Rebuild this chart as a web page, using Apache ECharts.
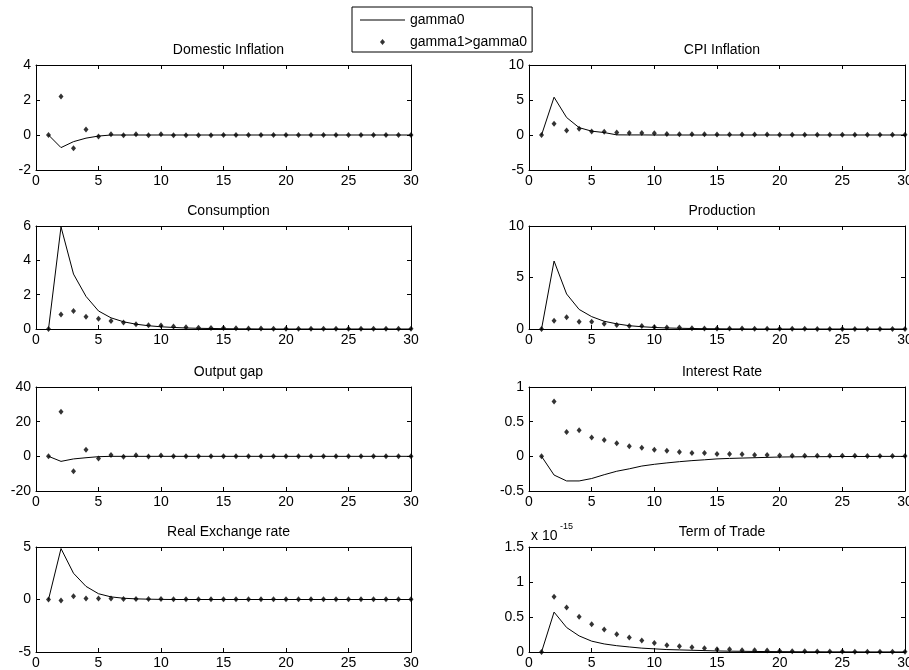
<!DOCTYPE html>
<html>
<head>
<meta charset="utf-8">
<script src="https://cdn.jsdelivr.net/npm/echarts@6/dist/echarts.min.js"></script>
<style>
html,body{margin:0;padding:0;background:#fff;overflow:hidden;}
#chart{width:909px;height:670px;}
</style>
</head>
<body>
<div id="chart"></div>
<script>
// Periods
const periods = [1,2,3,4,5,6,7,8,9,10,11,12,13,14,15,16,17,18,19,20,21,22,23,24,25,26,27,28,29,30];

// Domestic Inflation
const domGamma0 = [0,-0.72,-0.38,-0.18,-0.06,0,0,0,0,0,0,0,0,0,0,0,0,0,0,0,0,0,0,0,0,0,0,0,0,0];
const domGamma1 = [0,2.2,-0.75,0.32,-0.08,0.05,-0.02,0.05,-0.02,0.04,-0.01,-0.01,-0.01,-0.01,0,0,0,0,0,0,0,0,0,0,0,0,0,0,0,0];
// CPI Inflation
const cpiGamma0 = [0,5.4,2.5,1.05,0.55,0.35,0.02,0.01,0.01,0,0,0,0,0,0,0,0,0,0,0,0,0,0,0,0,0,0,0,0,0];
const cpiGamma1 = [0,1.6,0.65,0.9,0.5,0.45,0.35,0.3,0.3,0.25,0.15,0.12,0.1,0.1,0.08,0.08,0.07,0.06,0.06,0.05,0.05,0.05,0.05,0.05,0.04,0.04,0.04,0.04,0.03,0.03];
// Consumption
const consGamma0 = [0,5.95,3.2,1.9,1.05,0.65,0.42,0.28,0.19,0.13,0.09,0.06,0.04,0.03,0.02,0.01,0.01,0,0,0,0,0,0,0,0,0,0,0,0,0];
const consGamma1 = [0,0.85,1.05,0.72,0.6,0.47,0.38,0.28,0.22,0.2,0.15,0.1,0.08,0.06,0.06,0.04,0.03,0.03,0.02,0.02,0.02,0.01,0.01,0.01,0.01,0.01,0.01,0.01,0.01,0.01];
// Production
const prodGamma0 = [0,6.6,3.4,1.9,1.2,0.75,0.5,0.32,0.22,0.15,0.1,0.07,0.05,0.03,0.02,0.01,0.01,0,0,0,0,0,0,0,0,0,0,0,0,0];
const prodGamma1 = [0,0.8,1.15,0.7,0.7,0.5,0.4,0.3,0.3,0.2,0.15,0.15,0.08,0.06,0.05,0.05,0.04,0.03,0.03,0.02,0.02,0.02,0.01,0.01,0.01,0.01,0.01,0.01,0.01,0.01];
// Output gap
const gapGamma0 = [0,-2.9,-1.5,-0.8,-0.2,0,0,0,0,0,0,0,0,0,0,0,0,0,0,0,0,0,0,0,0,0,0,0,0,0];
const gapGamma1 = [0,25.7,-8.6,3.8,-1.2,0.8,-0.2,0.6,-0.1,0.5,0,0,0,0,0,0,0,0,0,0,0,0,0,0,0,0,0,0,0,0];
// Interest Rate
const irGamma0 = [0,-0.27,-0.355,-0.355,-0.32,-0.265,-0.215,-0.18,-0.14,-0.115,-0.095,-0.077,-0.062,-0.05,-0.037,-0.03,-0.025,-0.02,-0.015,-0.01,-0.008,-0.006,-0.005,-0.004,-0.003,-0.002,-0.002,-0.001,-0.001,-0.001];
const irGamma1 = [0,0.79,0.35,0.375,0.27,0.235,0.19,0.145,0.125,0.096,0.082,0.062,0.048,0.048,0.034,0.034,0.03,0.02,0.02,0.012,0.01,0.01,0.01,0.008,0.008,0.007,0.006,0.006,0.005,0.005];
// Real Exchange rate
const rerGamma0 = [0,4.85,2.5,1.25,0.55,0.25,0.12,0.06,0.03,0.01,0,0,0,0,0,0,0,0,0,0,0,0,0,0,0,0,0,0,0,0];
const rerGamma1 = [0,-0.1,0.3,0.1,0.1,0.1,0.05,0.05,0.04,0.04,0.03,0.03,0.03,0.02,0.02,0.02,0.02,0.02,0.02,0.02,0.02,0.02,0.02,0.02,0.02,0.02,0.02,0.02,0.02,0.02];
// Term of Trade (in units of 1e-15)
const totGamma0 = [0,0.57,0.35,0.23,0.155,0.115,0.09,0.072,0.055,0.045,0.035,0.03,0.025,0.02,0.015,0.012,0.01,0.008,0.006,0.005,0.004,0.003,0.003,0.002,0.002,0.002,0.001,0.001,0.001,0.001];
const totGamma1 = [0,0.79,0.635,0.505,0.395,0.32,0.255,0.207,0.163,0.13,0.096,0.082,0.067,0.053,0.04,0.038,0.025,0.025,0.02,0.015,0.012,0.01,0.008,0.007,0.006,0.005,0.004,0.004,0.003,0.003];

// Panel titles and y-axis ticks
const titles = ['Domestic Inflation','CPI Inflation','Consumption','Production','Output gap','Interest Rate','Real Exchange rate','Term of Trade'];
const yTicks = [[-2,4,2],[-5,10,5],[0,6,2],[0,10,5],[-20,40,20],[-0.5,1,0.5],[-5,5,5],[0,1.5,0.5]];
const xTicks = [0,30,5];
const seriesLine = [domGamma0,cpiGamma0,consGamma0,prodGamma0,gapGamma0,irGamma0,rerGamma0,totGamma0];
const seriesDots = [domGamma1,cpiGamma1,consGamma1,prodGamma1,gapGamma1,irGamma1,rerGamma1,totGamma1];

// Layout
const FONT = "'Liberation Sans', Arial, Helvetica, sans-serif";
const colLeft = [36, 529];
const plotW = [375, 376];
const rowTop = [65, 226, 387, 547];
const rowH = [105, 103, 104, 105];
const titleY = [38, 199, 360, 520];

const grids = [], xAxes = [], yAxes = [], series = [], titleComps = [];
for (let i = 0; i < 8; i++) {
  const r = Math.floor(i / 2), c = i % 2;
  grids.push({left: colLeft[c], top: rowTop[r], width: plotW[c], height: rowH[r],
              containLabel: false, outerBoundsMode: 'none'});
  titleComps.push({
    text: titles[i], left: colLeft[c] + plotW[c] / 2, top: titleY[r], textAlign: 'center',
    textStyle: {fontFamily: FONT, fontSize: 14, fontWeight: 'normal', color: '#000'}
  });
  const common = {
    type: 'value', gridIndex: i, splitLine: {show: false},
    axisLine: {show: true, onZero: false, lineStyle: {color: '#000', width: 1}},
    axisTick: {show: true, inside: true, length: 4, lineStyle: {color: '#000', width: 1}}
  };
  xAxes.push(Object.assign({}, common, {
    position: 'bottom', min: xTicks[0], max: xTicks[1], interval: xTicks[2],
    axisLabel: {show: true, margin: 4, fontFamily: FONT, fontSize: 14, color: '#000'}
  }));
  xAxes.push(Object.assign({}, common, {
    position: 'top', min: xTicks[0], max: xTicks[1], interval: xTicks[2],
    axisLabel: {show: false}
  }));
  const yt = yTicks[i];
  yAxes.push(Object.assign({}, common, {
    position: 'left', min: yt[0], max: yt[1], interval: yt[2],
    axisLabel: {show: true, margin: 5, fontFamily: FONT, fontSize: 14, color: '#000'}
  }));
  yAxes.push(Object.assign({}, common, {
    position: 'right', min: yt[0], max: yt[1], interval: yt[2],
    axisLabel: {show: false}
  }));
  series.push({
    type: 'line', name: 'gamma0', xAxisIndex: 2 * i, yAxisIndex: 2 * i,
    data: periods.map((p, j) => [p, seriesLine[i][j]]),
    symbol: 'none', showSymbol: false, smooth: false,
    lineStyle: {color: '#000', width: 1}, itemStyle: {color: '#000'}, silent: true
  });
  series.push({
    type: 'scatter', name: 'gamma1>gamma0', xAxisIndex: 2 * i, yAxisIndex: 2 * i,
    data: periods.map((p, j) => [p, seriesDots[i][j]]),
    symbol: 'diamond', symbolSize: [5, 6],
    itemStyle: {color: '#000'}, silent: true
  });
}

const chart = echarts.init(document.getElementById('chart'), null, {renderer: 'canvas'});
chart.setOption({
  animation: false,
  backgroundColor: '#fff',
  title: titleComps,
  grid: grids,
  xAxis: xAxes,
  yAxis: yAxes,
  series: series,
  legend: {
    show: true, orient: 'vertical', left: 352, top: 7,
    data: [
      {name: 'gamma0', icon: 'path://M0,0L45,0L45,1L0,1Z', itemStyle: {color: '#000', borderWidth: 0}},
      {name: 'gamma1>gamma0', icon: 'path://M5,0L10,6L5,12L0,6Z', itemStyle: {color: '#000', borderWidth: 0}}
    ],
    symbolKeepAspect: true,
    itemWidth: 45, itemHeight: 6, itemGap: 8, itemTextGap: 3,
    padding: [6, 5, 3, 8],
    borderColor: '#000', borderWidth: 1, backgroundColor: '#fff',
    textStyle: {fontFamily: FONT, fontSize: 14, color: '#000'},
    selectedMode: false
  },
  graphic: [
    {type: 'text', left: 531, top: 529, style: {text: 'x 10', fontFamily: FONT, fontSize: 14, fill: '#000'}},
    {type: 'text', left: 560, top: 522, style: {text: '-15', fontFamily: FONT, fontSize: 9, fill: '#000'}}
  ]
});
</script>
</body>
</html>
